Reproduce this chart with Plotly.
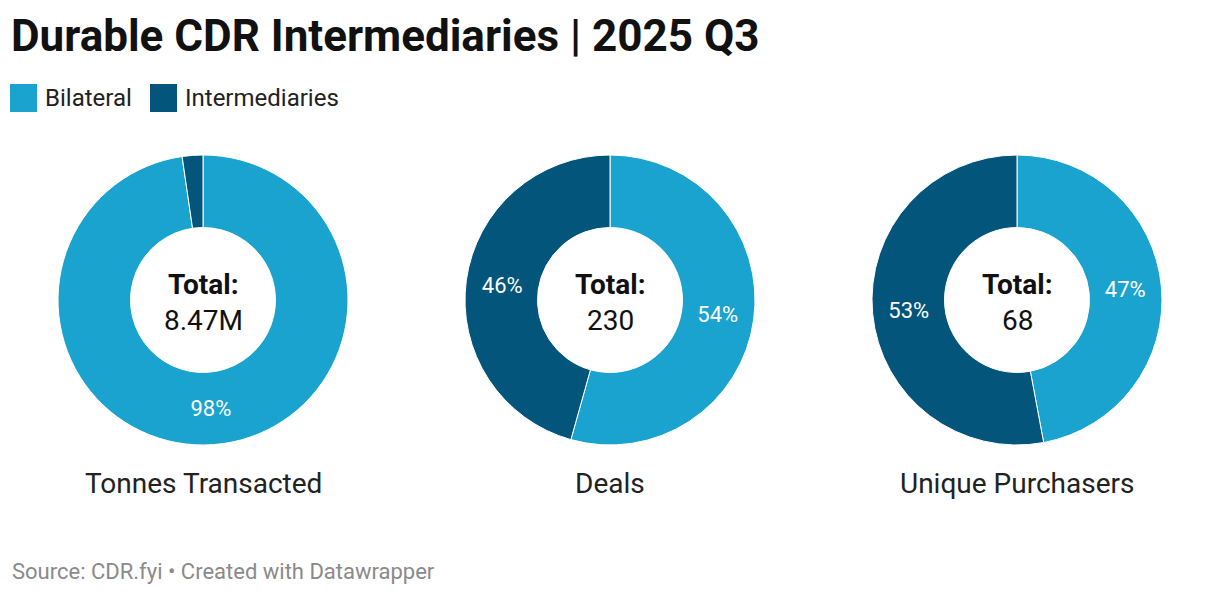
import plotly.graph_objects as go

W, H = 1220, 594

categories = ["Bilateral", "Intermediaries"]
chart_titles = ["Tonnes Transacted", "Deals", "Unique Purchasers"]
totals = ["8.47M", "230", "68"]
tonnes_share = [97.7, 2.3]
deals_count = [125, 105]
purchasers_count = [32, 36]
tonnes_labels = ["98%", ""]
deals_labels = ["54%", "46%"]
purchasers_labels = ["47%", "53%"]

colors = ["#1aa3cf", "#03557b"]
FONT = "Roboto"

series = [tonnes_share, deals_count, purchasers_count]
series_labels = [tonnes_labels, deals_labels, purchasers_labels]

centers_x = [203, 610, 1017]
cy = 300
R = 145


def px_x(x):
    return x / W


def px_y(y):
    return 1 - y / H


fig = go.Figure()
for i, (vals, txt) in enumerate(zip(series, series_labels)):
    cx = centers_x[i]
    fig.add_trace(go.Pie(
        labels=categories,
        values=vals,
        text=txt,
        texttemplate="%{text}",
        textposition="inside",
        insidetextorientation="horizontal",
        textfont=dict(family=FONT, size=22, color="white"),
        hole=0.5,
        sort=False,
        direction="clockwise",
        rotation=0,
        marker=dict(colors=colors, line=dict(color="white", width=1)),
        domain=dict(x=[px_x(cx - R), px_x(cx + R)], y=[px_y(cy + R), px_y(cy - R)]),
        showlegend=False,
        hoverinfo="label+percent",
    ))

annotations = []
# title
annotations.append(dict(text="<b>Durable CDR Intermediaries | 2025 Q3</b>", x=px_x(9), y=px_y(36),
                        xanchor="left", yanchor="middle", showarrow=False,
                        font=dict(family=FONT, size=44, color="#111111")))
# legend
shapes = []
leg_x = [10, 150]
for lx, cat, col in zip(leg_x, categories, colors):
    shapes.append(dict(type="rect", xref="paper", yref="paper",
                       x0=px_x(lx), x1=px_x(lx + 27), y0=px_y(112), y1=px_y(84),
                       fillcolor=col, line=dict(width=0)))
    annotations.append(dict(text=cat, x=px_x(lx + 33), y=px_y(98), xanchor="left", yanchor="middle",
                            showarrow=False, font=dict(family=FONT, size=24, color="#222222")))
# centers and bottom titles
for cx, tot, ttl in zip(centers_x, totals, chart_titles):
    annotations.append(dict(text="<b>Total:</b>", x=px_x(cx), y=px_y(284), xanchor="center", yanchor="middle",
                            showarrow=False, font=dict(family=FONT, size=28, color="#111111")))
    annotations.append(dict(text=tot, x=px_x(cx), y=px_y(320), xanchor="center", yanchor="middle",
                            showarrow=False, font=dict(family=FONT, size=28, color="#111111")))
    annotations.append(dict(text=ttl, x=px_x(cx), y=px_y(483), xanchor="center", yanchor="middle",
                            showarrow=False, font=dict(family=FONT, size=28, color="#222222")))
# source
annotations.append(dict(text="Source: CDR.fyi • Created with Datawrapper", x=px_x(10), y=px_y(571),
                        xanchor="left", yanchor="middle", showarrow=False,
                        font=dict(family=FONT, size=22, color="#8a8a8a")))

fig.update_layout(
    width=W, height=H,
    margin=dict(l=0, r=0, t=0, b=0),
    paper_bgcolor="white",
    plot_bgcolor="white",
    annotations=annotations,
    shapes=shapes,
    font=dict(family=FONT),
)

fig.write_html("out.html", config={"displayModeBar": False},
               post_script="document.body.style.margin='0px';document.body.style.overflow='hidden';")
